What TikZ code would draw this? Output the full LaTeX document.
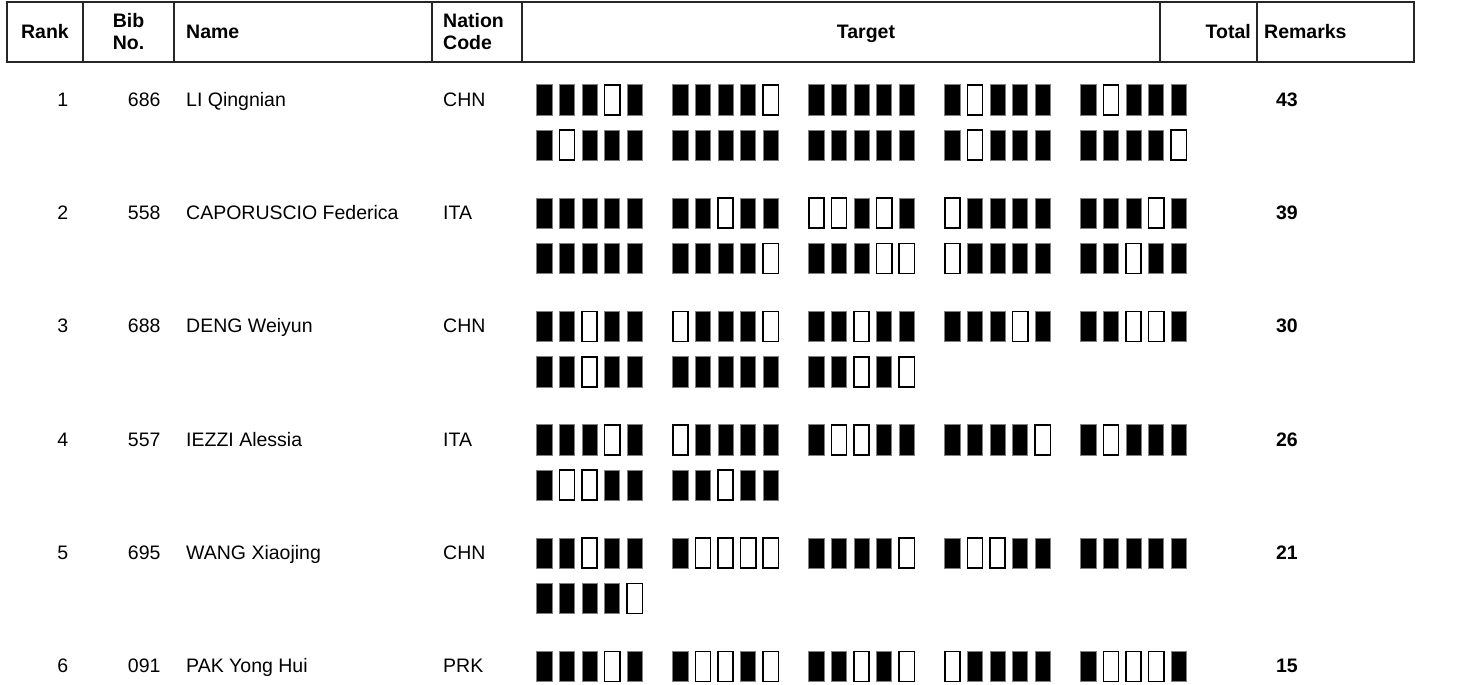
\documentclass[tikz,border=0pt]{standalone}
\usepackage{fontspec}
\setmainfont{Liberation Sans}
\usetikzlibrary{positioning}

\tikzset{
  s1/.style={fill=black,draw=black!50,line width=0.7pt},
  s0/.style={fill=white,draw=black,line width=1.6pt},
  rule/.style={draw=black!85,line width=1.4pt},
  cell/.style={inner sep=0pt,font=\fontsize{19.5}{22.7}\selectfont},
  head/.style={inner sep=0pt,font=\fontsize{19.5}{22.7}\selectfont\bfseries},
}

% one line of five series of five shots, #1 = top of the boxes
\newcommand{\targetline}[2]{%
  \foreach \grp [count=\gi from 0] in {#2}{
    \foreach \shot [count=\si from 0] in \grp{
      \path[s\shot] ({536.8+\gi*136+\si*22.6},{#1+0.8}) rectangle ++(15.1,30.1);
    }
  }
}

\begin{document}
\begin{tikzpicture}[x=1pt,y=-1pt]
 \fill[white] (0,0) rectangle (1481,685);
 \useasboundingbox (0,0) rectangle (1481,685);

 % header
 \draw[rule] (7,2) rectangle (1414,62);
 \foreach \cx in {83,174,432,522,1160,1257}
   \draw[rule] (\cx,2) -- (\cx,62);
 \node[head,anchor=base] (rankh) at (45,39) {Rank};
 \node[head,anchor=base] (bibh) at (128.5,27.3) {Bib};
 \node[head,anchor=base] (noh) at (128.5,50) {No.};
 \node[head,anchor=base west] (nameh) at (186,39) {Name};
 \node[head,anchor=base west] (nationh) at (443,27.3) {Nation};
 \node[head,anchor=base west] (codeh) at (443,50) {Code};
 \node[head,anchor=base] (targeth) at (866,39) {Target};
 \node[head,anchor=base east] (totalh) at (1251,39) {Total};
 \node[head,anchor=base west] (remarksh) at (1264,39) {Remarks};

 % athletes
 \foreach \rk/\bib/\who/\nat/\tot [count=\rowi from 0] in {
   1/686/LI Qingnian/CHN/43,
   2/558/CAPORUSCIO Federica/ITA/39,
   3/688/DENG Weiyun/CHN/30,
   4/557/IEZZI Alessia/ITA/26,
   5/695/WANG Xiaojing/CHN/21,
   6/091/PAK Yong Hui/PRK/15}{
   \node[cell,anchor=base east] (rank\rk) at (68.3,{106.3+\rowi*113.33}) {\rk};
   \node[cell,anchor=base east] (bib\rk) at (160.7,{106.3+\rowi*113.33}) {\bib};
   \node[cell,anchor=base west] (name\rk) at (186,{106.3+\rowi*113.33}) {\who};
   \node[cell,anchor=base west] (nation\rk) at (443,{106.3+\rowi*113.33}) {\nat};
   \node[head,anchor=base east] (total\rk) at (1298,{106.3+\rowi*113.33}) {\tot};
 }

 % targets
 \targetline{84}{{1,1,1,0,1},{1,1,1,1,0},{1,1,1,1,1},{1,0,1,1,1},{1,0,1,1,1}}
 \targetline{129.3}{{1,0,1,1,1},{1,1,1,1,1},{1,1,1,1,1},{1,0,1,1,1},{1,1,1,1,0}}
 \targetline{197.3}{{1,1,1,1,1},{1,1,0,1,1},{0,0,1,0,1},{0,1,1,1,1},{1,1,1,0,1}}
 \targetline{242.6}{{1,1,1,1,1},{1,1,1,1,0},{1,1,1,0,0},{0,1,1,1,1},{1,1,0,1,1}}
 \targetline{310.7}{{1,1,0,1,1},{0,1,1,1,0},{1,1,0,1,1},{1,1,1,0,1},{1,1,0,0,1}}
 \targetline{356}{{1,1,0,1,1},{1,1,1,1,1},{1,1,0,1,0}}
 \targetline{424}{{1,1,1,0,1},{0,1,1,1,1},{1,0,0,1,1},{1,1,1,1,0},{1,0,1,1,1}}
 \targetline{469.3}{{1,0,0,1,1},{1,1,0,1,1}}
 \targetline{537.3}{{1,1,0,1,1},{1,0,0,0,0},{1,1,1,1,0},{1,0,0,1,1},{1,1,1,1,1}}
 \targetline{582.6}{{1,1,1,1,0}}
 \targetline{650.7}{{1,1,1,0,1},{1,0,0,1,0},{1,1,0,1,0},{0,1,1,1,1},{1,0,0,0,1}}
\end{tikzpicture}
\end{document}
